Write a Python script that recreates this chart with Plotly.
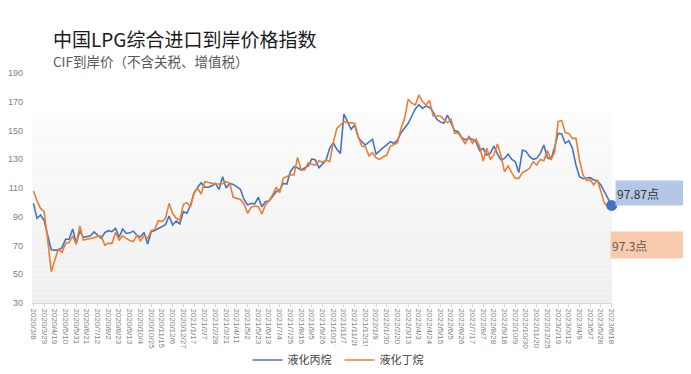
import pandas as pd
import plotly.graph_objects as go

# ---- categories (weekly dates, with some holiday gaps at the end) ----
contiguous = [d.strftime("%Y/%-m/%-d") for d in pd.date_range("2020-03-08", "2022-11-20", freq="7D")]
tail_dates = ["2022/12/4", "2022/12/11", "2022/12/25", "2023/1/8", "2023/2/5", "2023/2/19",
              "2023/2/26", "2023/3/5", "2023/3/12", "2023/3/19", "2023/3/26", "2023/4/9",
              "2023/4/16", "2023/4/23", "2023/5/7", "2023/5/14", "2023/5/21", "2023/5/28",
              "2023/6/4", "2023/6/11", "2023/6/18"]
dates = contiguous + tail_dates

propane = [
    99.3, 88.9, 91.2, 87.3, 77.0, 67.0, 66.8, 66.8, 68.5, 74.3,
    74.3, 81.5, 71.5, 80.0, 75.7, 76.0, 76.8, 79.5, 77.3, 75.0,
    79.0, 80.3, 79.6, 81.9, 75.7, 81.5, 78.4, 78.8, 80.0, 77.0,
    76.0, 79.0, 71.0, 79.6, 80.5, 82.0, 83.6, 84.5, 90.5, 84.3,
    87.0, 85.0, 93.5, 92.4, 98.0, 106.3, 110.5, 113.7, 110.5, 110.5,
    111.5, 113.2, 109.0, 117.9, 110.0, 113.2, 112.5, 110.5, 109.1, 102.0,
    98.2, 99.3, 98.9, 103.5, 97.0, 100.5, 101.0, 104.0, 107.4, 108.6,
    113.2, 112.8, 121.4, 124.8, 124.1, 122.5, 124.0, 125.3, 130.2, 129.5,
    124.1, 127.2, 129.5, 137.6, 141.5, 137.0, 134.1, 161.5, 156.2, 150.8,
    153.8, 145.2, 142.2, 139.9, 142.0, 143.9, 133.6, 136.0, 138.1, 140.0,
    142.2, 141.1, 143.4, 148.5, 152.0, 155.0, 160.1, 165.0, 168.0, 165.4,
    167.0, 166.0, 163.0, 157.8, 156.0, 155.0, 160.8, 155.0, 150.0, 149.2,
    145.0, 143.5, 144.5, 143.9, 142.2, 136.0, 137.6, 133.0, 134.1, 139.2,
    133.6, 129.5, 130.6, 133.6, 130.0, 128.3, 120.7, 136.4, 135.5, 132.0,
    129.9, 130.6, 134.1, 139.9, 131.0, 130.0, 138.0, 148.0, 147.6, 141.1,
    142.9, 137.6, 126.0, 117.9, 116.5, 117.0, 117.2, 115.6, 115.1, 112.0,
    107.0, 102.5, 97.87,
]

butane = [
    107.9, 101.0, 95.8, 93.5, 73.8, 51.8, 59.9, 67.5, 65.2, 71.5,
    72.0, 76.6, 70.8, 83.6, 73.8, 74.2, 74.5, 75.4, 76.5, 76.5,
    70.3, 71.5, 71.5, 79.1, 73.8, 76.8, 75.0, 73.5, 72.7, 77.3,
    73.3, 76.6, 75.0, 80.3, 81.2, 87.3, 86.6, 88.9, 99.3, 92.4,
    88.9, 87.7, 98.6, 99.8, 97.0, 106.7, 109.8, 105.8, 114.4, 113.7,
    113.0, 112.8, 112.8, 113.0, 114.4, 113.2, 103.5, 103.0, 102.0, 98.9,
    92.4, 96.6, 97.5, 97.0, 91.9, 98.2, 101.2, 105.1, 110.5, 106.7,
    116.7, 118.0, 119.0, 119.0, 131.3, 122.5, 122.5, 127.6, 126.5, 126.0,
    129.0, 127.9, 129.5, 128.3, 141.5, 151.5, 153.8, 156.2, 155.5, 155.0,
    155.0, 145.7, 139.2, 138.8, 132.3, 134.6, 131.0, 129.9, 131.8, 132.9,
    139.2, 140.0, 141.5, 151.5, 158.5, 171.7, 169.0, 167.7, 174.7, 170.1,
    167.7, 170.8, 160.1, 160.1, 160.1, 157.8, 155.4, 157.8, 148.0, 148.5,
    144.5, 140.6, 146.2, 141.1, 143.9, 138.8, 128.8, 137.6, 129.9, 133.0,
    140.6, 132.3, 121.4, 125.3, 120.7, 116.7, 116.7, 120.7, 122.0, 123.7,
    128.3, 126.0, 129.9, 129.0, 136.0, 129.5, 134.6, 156.2, 156.9, 148.5,
    148.0, 144.5, 144.5, 129.5, 119.0, 115.1, 115.6, 112.1, 115.6, 107.4,
    99.3, 97.0, 97.3,
]

tick_labels = dates[::3]
y_ticks = [30, 50, 70, 90, 110, 130, 150, 170, 190]

series_names = ["液化丙烷", "液化丁烷"]
colors = ["#4472C4", "#ED7D31"]

fig = go.Figure()
fig.add_trace(go.Scatter(x=dates, y=propane, mode="lines", name=series_names[0],
                         line=dict(color=colors[0], width=1.6)))
fig.add_trace(go.Scatter(x=dates, y=butane, mode="lines", name=series_names[1],
                         line=dict(color=colors[1], width=1.6)))
fig.add_trace(go.Scatter(x=[dates[-1]], y=[propane[-1]], mode="markers", showlegend=False,
                         marker=dict(color=colors[0], size=11), hoverinfo="skip", cliponaxis=False))

# gradient background in plot area
shapes = []
n = 40
top = 0.83
for k in range(n):
    y0 = top * k / n
    y1 = top * (k + 1) / n
    frac = k / (n - 1)
    g = int(round(0xef + (0xfc - 0xef) * frac))
    shapes.append(dict(type="rect", xref="paper", yref="paper", x0=0, x1=1, y0=y0, y1=y1,
                       fillcolor=f"rgb({g},{g},{g})", line=dict(width=0), layer="below"))

font_cjk = "Noto Sans CJK SC, Noto Sans, sans-serif"

# the page body adds an 8px margin; size the figure so the window shows it whole
OFF = 8
W, H = 691 - 2 * OFF, 374 - 2 * OFF
L, T = 32 - OFF, 73 - OFF
R = W - (612 - OFF)
B = H - (303 - OFF)
PW, PH = W - L - R, H - T - B

def px(xp):
    return (xp - OFF - L) / PW

def py(yp):
    return (H - B - (yp - OFF)) / PH

fig.update_layout(
    width=W, height=H,
    margin=dict(l=L, r=R, t=T, b=B, autoexpand=False),
    paper_bgcolor="white", plot_bgcolor="white",
    shapes=shapes,
    showlegend=True,
    legend=dict(orientation="h", x=0.5 - 6 / W, xref="container", xanchor="center",
                y=(H - (360 - OFF)) / H, yref="container", yanchor="middle",
                font=dict(family=font_cjk, size=11, color="#404040"),
                entrywidth=47, entrywidthmode="pixels", tracegroupgap=0),
    xaxis=dict(type="category", categoryorder="array", categoryarray=dates,
               range=[-0.4, len(dates) - 0.9], automargin=False,
               tickmode="array", tickvals=tick_labels, ticktext=tick_labels,
               tickangle=90, tickfont=dict(family="Liberation Sans, sans-serif", size=8, color="#7f7f7f"),
               showgrid=False, showline=True, linecolor="#d9d9d9", linewidth=1,
               ticks="outside", ticklen=3, tickcolor="#d9d9d9", zeroline=False),
    yaxis=dict(range=[30, 190], tickmode="array", tickvals=y_ticks, automargin=False,
               tickfont=dict(family="Liberation Sans, sans-serif", size=9, color="#7f7f7f"),
               showgrid=False, zeroline=False, showline=False, ticks="", ticklabelstandoff=8),
    annotations=[
        dict(text="中国LPG综合进口到岸价格指数", xref="paper", yref="paper", x=px(51),
             y=py(39), xanchor="left", yanchor="middle", showarrow=False,
             font=dict(family=font_cjk, size=19, color="#1a1a1a")),
        dict(text="CIF到岸价（不含关税、增值税）", xref="paper", yref="paper", x=px(51),
             y=py(61), xanchor="left", yanchor="middle", showarrow=False,
             font=dict(family=font_cjk, size=13.5, color="#595959")),
        dict(text=f"{propane[-1]}点", xref="paper", yref="paper", x=px(615),
             y=py(193), xanchor="left", yanchor="middle", showarrow=False,
             align="left", width=72, height=22, bgcolor="#B4C7E7", borderpad=1,
             font=dict(family=font_cjk, size=12, color="#333333")),
        dict(text=f"{butane[-1]}点", xref="paper", yref="paper", x=px(610),
             y=py(245), xanchor="left", yanchor="middle", showarrow=False,
             align="left", width=78, height=24, bgcolor="#F8CBAD", borderpad=1,
             font=dict(family=font_cjk, size=12, color="#595959")),
    ],
)

fig.write_html("out.html")
